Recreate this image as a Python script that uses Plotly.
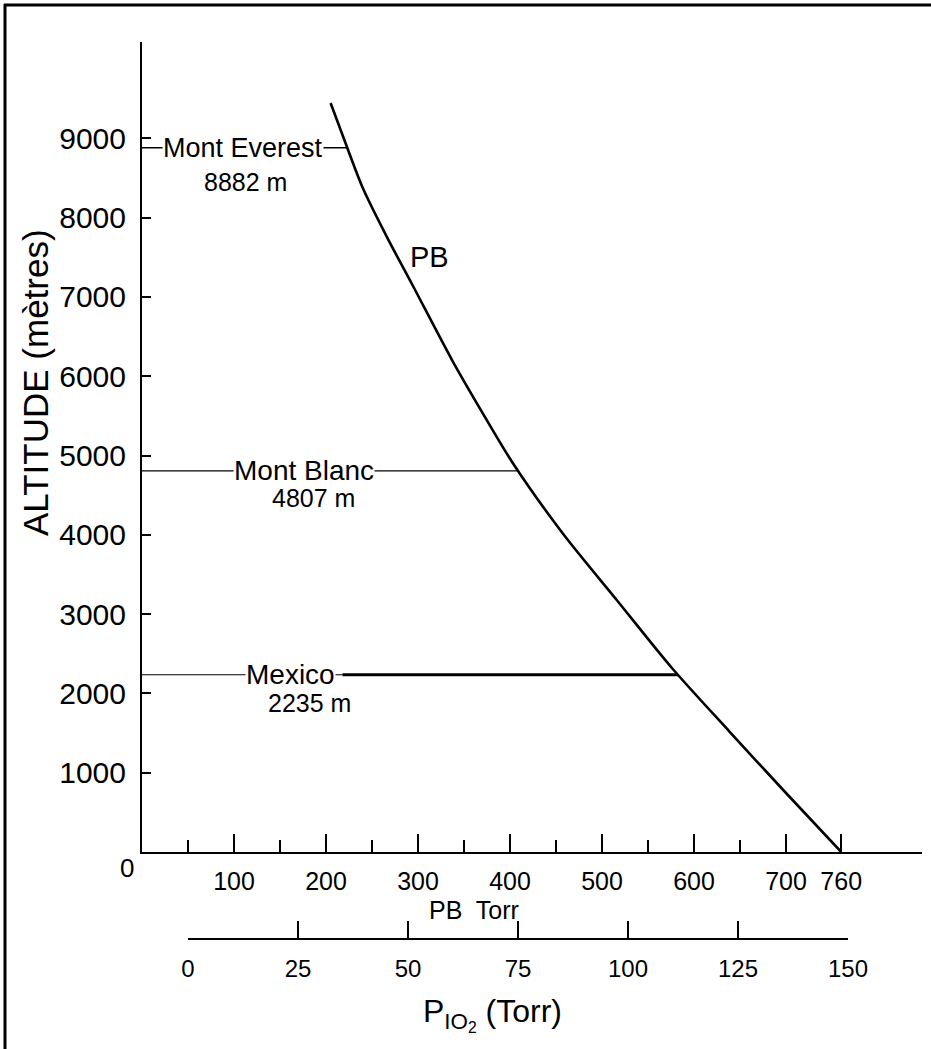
import numpy as np
import plotly.graph_objects as go

# ---- data ----
pb_torr = [205, 222, 240, 266, 294, 337, 369, 403, 457, 516, 576, 639, 700, 760]
altitude_m = [9445, 8916, 8373, 7760, 7150, 6204, 5560, 4905, 4023, 3178, 2320, 1513, 744, 0]

sites = ["Mont Everest", "Mont Blanc", "Mexico"]
site_alt = [8882, 4807, 2235]
site_alt_text = ["8882 m", "4807 m", "2235 m"]

pb_tick_major = [100, 200, 300, 400, 500, 600, 700, 760]
pb_tick_minor = [50, 150, 250, 350, 450, 550, 650]
alt_ticks = [1000, 2000, 3000, 4000, 5000, 6000, 7000, 8000, 9000]
pio2_ticks = [0, 25, 50, 75, 100, 125, 150]

FONT = "Liberation Sans"
W, H = 931, 1049
ML, MR, MT, MB = 142, 9, 42, 111
PW, PH = W - ML - MR, H - MT - MB
X_PX_PER_TORR = 0.92
Y_PX_PER_M = 0.0793
Y_BASE_PX = 852  # pixel row of altitude 0

fig = go.Figure()

# altitude curve (PB)
fig.add_trace(go.Scatter(x=pb_torr, y=altitude_m, mode="lines",
                         line=dict(color="black", width=2.6, shape="spline", smoothing=0.8),
                         showlegend=False, hoverinfo="skip"))

# site lines (from axis to the curve)
pb_sorted = pb_torr[::-1]
alt_sorted = altitude_m[::-1]
site_widths = [1.5, 1.2, 1.2]
for name, a, w in zip(sites, site_alt, site_widths):
    pb_at = float(np.interp(a, alt_sorted, pb_sorted))
    fig.add_trace(go.Scatter(x=[0, pb_at], y=[a, a], mode="lines",
                             line=dict(color="black", width=w),
                             showlegend=False, hoverinfo="skip"))
# Mexico: heavier right-hand segment
pb_mex = float(np.interp(site_alt[2], alt_sorted, pb_sorted))
fig.add_trace(go.Scatter(x=[218, pb_mex], y=[site_alt[2], site_alt[2]], mode="lines",
                         line=dict(color="black", width=2.8),
                         showlegend=False, hoverinfo="skip"))

# dummy trace for second axis
fig.add_trace(go.Scatter(x=[0, 150], y=[0, 0], xaxis="x2", yaxis="y2",
                         mode="markers", marker=dict(opacity=0),
                         showlegend=False, hoverinfo="skip"))

ydom0 = (H - MB - Y_BASE_PX) / PH
fig.update_layout(
    width=W, height=H,
    margin=dict(l=ML, r=MR, t=MT, b=MB, autoexpand=False),
    paper_bgcolor="white", plot_bgcolor="white",
    font=dict(family=FONT, color="black", size=22),
    xaxis=dict(range=[0, PW / X_PX_PER_TORR], domain=[0, 1], anchor="y",
               showline=True, linecolor="black", linewidth=2,
               showgrid=False, zeroline=False,
               ticks="inside", ticklen=18, tickwidth=1.6, tickcolor="black",
               tickvals=pb_tick_major, ticktext=[str(v) for v in pb_tick_major],
               minor=dict(tickvals=pb_tick_minor, ticks="inside", ticklen=12,
                          tickwidth=1.6, tickcolor="black", showgrid=False),
               tickfont=dict(size=25, family=FONT), ticklabelstandoff=6,
               automargin=False),
    yaxis=dict(range=[0, (Y_BASE_PX - MT) / Y_PX_PER_M], domain=[ydom0, 1],
               anchor="x", showline=True, linecolor="black", linewidth=2,
               showgrid=False, zeroline=False,
               ticks="inside", ticklen=9, tickwidth=2, tickcolor="black",
               tickvals=alt_ticks, ticktext=[str(v) for v in alt_ticks],
               tickfont=dict(size=30, family=FONT), ticklabelstandoff=8,
               automargin=False),
    xaxis2=dict(range=[0, 150], domain=[(188 - ML) / PW, (848 - ML) / PW],
                anchor="y2", showline=True, linecolor="black", linewidth=2,
                showgrid=False, zeroline=False,
                ticks="inside", ticklen=17, tickwidth=1.6, tickcolor="black",
                tickvals=pio2_ticks, ticktext=[str(v) for v in pio2_ticks],
                tickfont=dict(size=24, family=FONT), ticklabelstandoff=8,
                automargin=False),
    yaxis2=dict(domain=[0, 0.001], anchor="x2", visible=False, range=[0, 1]),
)

def px_to_paper_x(px):
    return (px - ML) / PW

def px_to_paper_y(py):
    return (H - MB - py) / PH

annotations = []
name_pos = [(110, 8882), (176, 4807), (161, 2235)]
name_sizes = [27, 28, 28]
alt_text_pos = [(112, 8450), (186, 4460), (182, 1885)]
for name, (nx, ny), ns, txt, (tx, ty) in zip(sites, name_pos, name_sizes,
                                             site_alt_text, alt_text_pos):
    annotations.append(dict(x=nx, y=ny, xref="x", yref="y", text=name,
                            xanchor="center", yanchor="middle",
                            showarrow=False, bgcolor="white", borderpad=0,
                            font=dict(size=ns, family=FONT)))
    annotations.append(dict(x=tx, y=ty, xref="x", yref="y", text=txt,
                            xanchor="center", yanchor="middle",
                            showarrow=False, font=dict(size=25, family=FONT)))
annotations.append(dict(x=313, y=7503, xref="x", yref="y", text="PB",
                        xanchor="center", yanchor="middle",
                        showarrow=False, font=dict(size=29, family=FONT)))
annotations.append(dict(x=px_to_paper_x(127), y=px_to_paper_y(868), xref="paper", yref="paper",
                        xanchor="center", yanchor="middle",
                        text="0", showarrow=False, font=dict(size=26, family=FONT)))
annotations.append(dict(x=px_to_paper_x(474), y=px_to_paper_y(910), xref="paper", yref="paper",
                        xanchor="center", yanchor="middle",
                        text="PB  Torr", showarrow=False, font=dict(size=25, family=FONT)))
annotations.append(dict(x=px_to_paper_x(35), y=px_to_paper_y(382), xref="paper", yref="paper",
                        xanchor="center", yanchor="middle",
                        text="ALTITUDE (mètres)", textangle=-90, showarrow=False,
                        font=dict(size=35, family=FONT)))
annotations.append(dict(x=px_to_paper_x(492), y=px_to_paper_y(1014), xref="paper", yref="paper",
                        xanchor="center", yanchor="middle",
                        text="P<sub>IO<sub>2</sub></sub> (Torr)", showarrow=False,
                        font=dict(size=32, family=FONT)))
fig.update_layout(annotations=annotations)

# outer frame (top and left edges of the scanned page)
fig.add_shape(type="line", xref="paper", yref="paper",
              x0=px_to_paper_x(4), x1=px_to_paper_x(W), y0=px_to_paper_y(5), y1=px_to_paper_y(5),
              line=dict(color="black", width=3))
fig.add_shape(type="line", xref="paper", yref="paper",
              x0=px_to_paper_x(5), x1=px_to_paper_x(5), y0=px_to_paper_y(4), y1=px_to_paper_y(H),
              line=dict(color="black", width=3))

fig.write_html("out.html", config={"displayModeBar": False},
               post_script="document.body.style.margin='0px';")
